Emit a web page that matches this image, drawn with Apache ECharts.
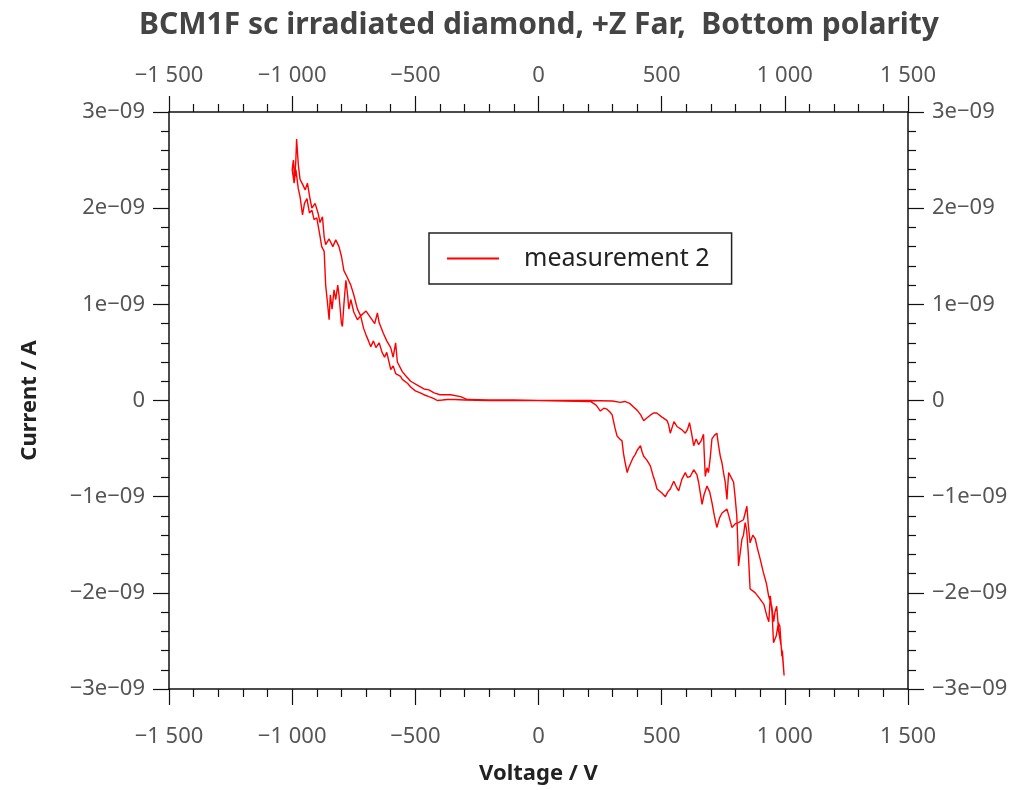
<!DOCTYPE html>
<html><head><meta charset="utf-8">
<script src="https://cdn.jsdelivr.net/npm/echarts@6/dist/echarts.min.js"></script>
<style>html,body{margin:0;padding:0;background:#fff}#c{width:1032px;height:790px}</style>
</head><body><div id="c"></div>
<script>
// Current values are in units of 1e-9 A (labels shown as "Ne−09")
// Sweep 0 -> -1000 V (upper strand)
const sweepNegOutV = [0,-100,-200,-289,-316,-357,-400,-424,-445,-465,-492,-519,-540,-553,-573,-580,-590,-600,-616,-630,-647,-654,-665,-681,-700,-722,-735,-750,-762,-778,-790,-800,-810,-823,-835,-850,-864,-870,-877,-887,-895,-907,-911,-920,-927,-938,-947,-958,-968,-975,-982,-985,-990,-995,-1000];
const sweepNegOutI = [0,0.005,0.005,0.01,0.04,0.06,0.06,0.08,0.11,0.12,0.16,0.20,0.26,0.30,0.40,0.60,0.45,0.55,0.62,0.70,0.81,0.91,0.80,0.86,0.93,0.88,0.95,1.10,1.20,1.29,1.35,1.50,1.60,1.67,1.60,1.68,1.62,1.70,1.91,1.85,1.95,2.05,2.07,2.00,2.09,2.26,2.19,2.25,2.30,2.45,2.72,2.50,2.30,2.50,2.40];
// Sweep -1000 -> 0 V (lower strand)
const sweepNegBackV = [-1000,-992,-985,-975,-968,-958,-950,-940,-930,-920,-911,-900,-895,-887,-880,-870,-864,-858,-850,-845,-838,-830,-823,-815,-810,-800,-796,-790,-782,-775,-770,-762,-750,-735,-722,-710,-700,-690,-681,-670,-660,-647,-635,-625,-616,-605,-600,-590,-580,-573,-560,-553,-532,-519,-500,-480,-465,-445,-424,-411,-390,-370,-340,-300,-200,-100,0];
const sweepNegBackI = [2.40,2.26,2.40,2.20,2.12,1.93,2.05,2.10,1.95,1.98,1.88,1.90,1.88,1.71,1.60,1.55,1.20,1.05,0.84,1.10,0.95,1.15,1.05,1.20,1.10,0.80,0.77,1.00,1.25,1.10,0.95,1.05,0.92,0.84,0.88,0.75,0.68,0.62,0.56,0.62,0.55,0.60,0.50,0.45,0.50,0.38,0.32,0.36,0.28,0.30,0.25,0.22,0.18,0.14,0.10,0.08,0.06,0.04,0.02,0.00,0.005,0.01,0.01,0.005,0,0,0];
// Sweep 0 -> +1000 V (lower strand)
const sweepPosOutV = [0,100,211,218,235,251,265,278,290,299,310,319,330,339,345,352,360,366,373,383,393,400,414,420,427,440,454,465,474,481,488,500,515,525,535,549,560,569,582,596,605,616,630,643,650,664,672,684,695,704,714,724,735,745,765,775,785,800,812,832,846,852,859,870,880,890,900,913,925,934,947,955,960,967,975,985,992,997];
const sweepPosOutI = [0,-0.005,-0.01,-0.02,-0.05,-0.11,-0.08,-0.09,-0.12,-0.15,-0.28,-0.37,-0.40,-0.42,-0.55,-0.65,-0.75,-0.70,-0.68,-0.60,-0.56,-0.52,-0.47,-0.53,-0.58,-0.62,-0.68,-0.78,-0.85,-0.92,-0.92,-0.96,-1.00,-0.95,-0.92,-0.84,-0.90,-0.94,-0.82,-0.75,-0.80,-0.79,-0.72,-0.77,-0.85,-1.08,-0.98,-0.89,-0.95,-1.06,-1.20,-1.32,-1.22,-1.17,-1.13,-1.22,-1.32,-1.28,-1.27,-1.24,-1.10,-1.30,-1.48,-1.40,-1.44,-1.55,-1.65,-1.79,-1.90,-2.03,-2.14,-2.30,-2.20,-2.14,-2.40,-2.55,-2.70,-2.86];
// Sweep +1000 -> 0 V (upper strand)
const sweepPosBackV = [997,990,988,980,974,965,954,948,941,935,927,915,907,895,880,870,859,852,845,839,832,826,818,812,808,805,798,792,782,772,768,765,758,751,745,738,730,724,715,704,697,690,684,677,672,670,660,650,640,630,622,613,605,596,580,562,550,542,535,528,522,500,480,467,455,441,427,415,400,387,370,350,332,300,200,100,0];
const sweepPosBackI = [-2.86,-2.60,-2.66,-2.35,-2.31,-2.45,-2.52,-2.20,-2.03,-2.30,-2.24,-2.12,-2.10,-2.05,-2.00,-1.98,-1.96,-1.60,-1.35,-1.27,-1.40,-1.44,-1.60,-1.72,-1.40,-1.20,-1.00,-0.85,-0.80,-0.75,-0.90,-1.03,-0.85,-0.75,-0.65,-0.58,-0.45,-0.34,-0.36,-0.40,-0.60,-0.75,-0.70,-0.79,-0.50,-0.35,-0.42,-0.46,-0.40,-0.47,-0.35,-0.23,-0.30,-0.34,-0.30,-0.27,-0.22,-0.20,-0.34,-0.25,-0.21,-0.17,-0.13,-0.13,-0.15,-0.18,-0.21,-0.15,-0.10,-0.07,-0.03,-0.01,-0.02,-0.005,0,0,0];

const titleText = 'BCM1F sc irradiated diamond, +Z Far,  Bottom polarity';
const seriesName = 'measurement 2';
const xName = 'Voltage / V';
const yName = 'Current / A';

function pairs(vs, is){ return vs.map((v,k)=>[v, is[k]]); }
const data = [].concat(
  pairs(sweepNegOutV, sweepNegOutI),
  pairs(sweepNegBackV, sweepNegBackI),
  pairs(sweepPosOutV, sweepPosOutI),
  pairs(sweepPosBackV, sweepPosBackI)
);

const FONT = '"Noto Sans", "DejaVu Sans", sans-serif';
function fmtX(v){
  const a = Math.abs(v);
  let s = a >= 1000 ? Math.floor(a/1000) + ' ' + String(a%1000).padStart(3,'0') : String(a);
  return (v < 0 ? '\u2212' : '') + s;
}
function fmtY(v){
  const n = Math.round(v);
  if (n === 0) return '0';
  return (n < 0 ? '\u2212' : '') + Math.abs(n) + 'e\u221209';
}
const tickStyle = {color:'#111', width:1.2};
function xAxisDef(pos, margin){
  return {
    type:'value', min:-1500, max:1500, interval:500, position:pos,
    axisLine:{show:true, onZero:false, lineStyle:{color:'#111', width:1.5}},
    axisTick:{show:true, inside:false, length:16, lineStyle:tickStyle},
    minorTick:{show:true, splitNumber:5, length:8, lineStyle:tickStyle},
    splitLine:{show:false},
    axisLabel:{formatter:fmtX, color:'#555', fontSize:22, fontFamily:FONT, margin:margin}
  };
}
function yAxisDef(pos){
  return {
    type:'value', min:-3, max:3, interval:1, position:pos,
    axisLine:{show:true, onZero:false, lineStyle:{color:'#111', width:1.5}},
    axisTick:{show:true, inside:false, length:16, lineStyle:tickStyle},
    minorTick:{show:true, splitNumber:5, length:8, lineStyle:tickStyle},
    splitLine:{show:false},
    axisLabel:{formatter:fmtY, color:'#555', fontSize:22, fontFamily:FONT, margin:24}
  };
}

const chart = echarts.init(document.getElementById('c'), null, {renderer:'canvas'});
chart.setOption({
  backgroundColor:'#fff',
  animation:false,
  title:{text:titleText, left:534, textAlign:'center', top:5,
    textStyle:{fontSize:30, fontWeight:'bold', color:'#444', fontFamily:FONT}},
  grid:{left:169, right:124, top:112, bottom:100, containLabel:false},
  legend:{
    data:[seriesName], left:429, top:233, orient:'vertical',
    padding:[13,22,13,18], borderColor:'#222', borderWidth:1.5, borderRadius:0,
    itemWidth:52, itemHeight:2, icon:'rect', itemGap:0,
    textStyle:{fontSize:25, color:'#222', fontFamily:FONT, padding:[0,0,0,20]}
  },
  xAxis:[
    Object.assign(xAxisDef('bottom', 37), {name:xName, nameLocation:'middle', nameGap:74,
      nameTextStyle:{fontSize:22, fontWeight:'bold', color:'#222', fontFamily:FONT}}),
    xAxisDef('top', 25)
  ],
  yAxis:[
    Object.assign(yAxisDef('left'), {name:yName, nameLocation:'middle', nameGap:128, nameRotate:90,
      nameTextStyle:{fontSize:22, fontWeight:'bold', color:'#222', fontFamily:FONT}}),
    yAxisDef('right')
  ],
  series:[{
    name:seriesName, type:'line', xAxisIndex:0, yAxisIndex:0,
    data:data, showSymbol:false, symbol:'none', smooth:false,
    color:'#ff0000', lineStyle:{color:'#ff0000', width:1.4}
  }]
});
</script></body></html>
